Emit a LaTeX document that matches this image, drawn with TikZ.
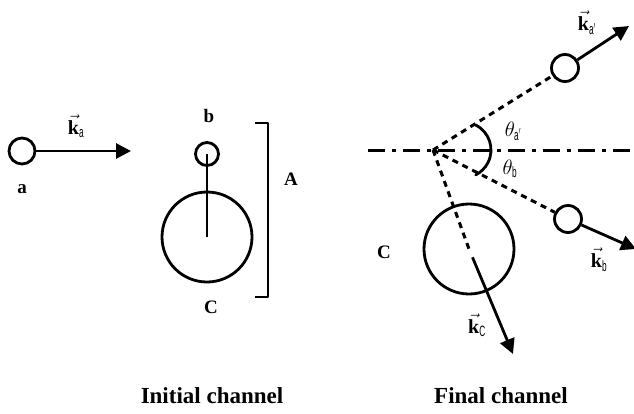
\documentclass[tikz,border=0pt]{standalone}
\usepackage{fontspec}
\setmainfont{Liberation Serif}
\setsansfont{Liberation Sans}
\usetikzlibrary{arrows.meta}

\begin{document}
\begin{tikzpicture}[
    x=1pt, y=-1pt,
    line join=round,
    particle/.style={circle, draw=black, line width=2.8pt, inner sep=0pt},
    letter/.style={anchor=base, font=\fontsize{19}{21}\selectfont\bfseries},
    caption/.style={anchor=base, font=\fontsize{23}{25}\selectfont\bfseries},
    ksym/.style={font=\fontsize{20}{22}\selectfont, inner sep=1pt},
    angsym/.style={font=\fontsize{22}{24}\selectfont},
    momentum/.style={line width=2.8pt, -{Triangle[length=15pt, width=15pt]}},
    track/.style={line width=3pt, dash pattern=on 6pt off 5pt},
    axisline/.style={line width=3pt, dash pattern=on 17pt off 7pt on 4pt off 7pt}
]

\useasboundingbox (0,0) rectangle (634,413);

% narrow upright subscripts
\newcommand{\ksub}[1]{\mbox{\scalebox{0.55}[1]{\fontsize{15}{15}\selectfont\sffamily #1}}}
\newcommand{\kvec}[1]{$\vec{\textbf{k}}_{\ksub{#1}}$}

% ----------------------------------------------------
% Initial channel
% ----------------------------------------------------
\node[particle, minimum size=26pt] (a) at (22,151) {};
\coordinate (katip) at (131,151);
\draw[momentum] (a) -- (katip);
\node[ksym] (ka) at (76,126) {\kvec{a}};
\node[letter] (alab) at (22,193) {a};

\node[particle, minimum size=23pt] (b) at (207,154) {};
\node[particle, minimum size=90pt] (Cin) at (207,237) {};
\draw[line width=2.8pt] (b.center) -- (Cin.center);
\node[letter] (blab) at (209,122) {b};
\node[letter] (Cinlab) at (211,313) {C};

% bracket round the target A
\draw[line width=2.8pt] (255,123) -- (268,123) -- (268,297) -- (255,297);
\node[letter] (Alab) at (291,185) {A};

% ----------------------------------------------------
% Final channel
% ----------------------------------------------------
\coordinate (O) at (433,150);
\draw[axisline] (368,150) -- (634,150);

\node[particle, minimum size=27pt] (ap) at (565,68) {};
\node[particle, minimum size=27pt] (bp) at (568,219) {};
\node[particle, minimum size=90pt] (Cf) at (469,249) {};

\draw[track] (O) -- (ap);
\draw[track] (O) -- (bp);
\draw[track] (O) -- (Cf.center);

\coordinate (aptip) at (629,26);
\coordinate (bptip) at (636,249);
\coordinate (Cftip) at (513,354);
\draw[momentum] (ap) -- (aptip);
\draw[momentum] (bp) -- (bptip);
\draw[momentum, shorten <=9pt] (Cf.center) -- (Cftip);

% scattering angles
\draw[line width=2.8pt, line cap=round] (475.7,125) arc[start angle=-63, end angle=63, radius=28];
\node[angsym] (tha) at (513,131) {$\theta_{\ksub{a$'$}}$};
\node[angsym] (thb) at (510,169) {$\theta_{\ksub{b}}$};

\node[ksym] (kap) at (587,23) {\kvec{a$'$}};
\node[ksym] (kbp) at (599,260) {\kvec{b}};
\node[ksym] (kCf) at (477,325) {\kvec{C}};
\node[letter] (Cflab) at (384,258) {C};

% ----------------------------------------------------
% Labels
% ----------------------------------------------------
\node[caption] (init) at (212,403) {Initial channel};
\node[caption] (final) at (501,403) {Final channel};

\end{tikzpicture}
\end{document}
